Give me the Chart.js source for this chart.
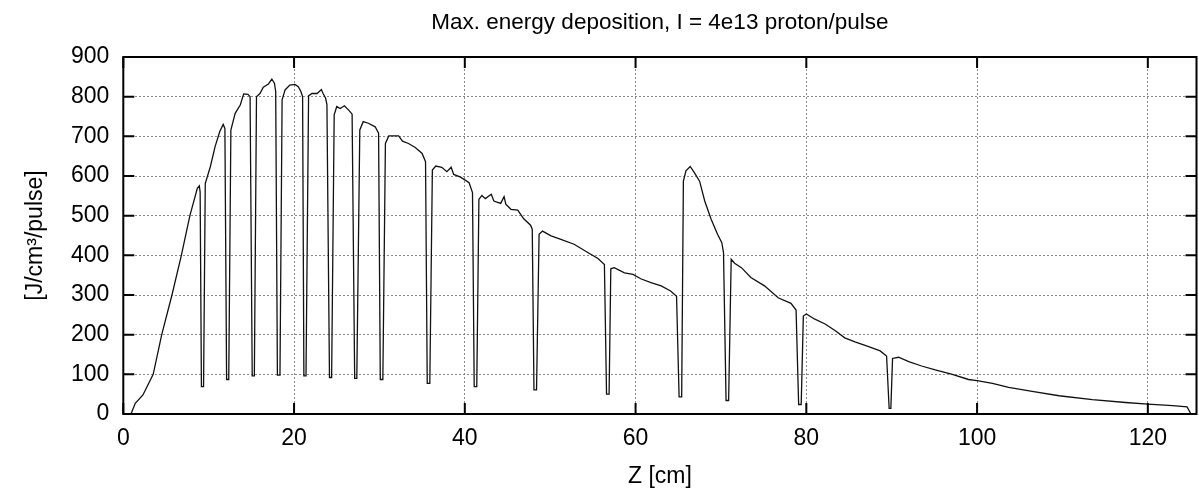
<!DOCTYPE html>
<html><head><meta charset="utf-8">
<script src="https://cdn.jsdelivr.net/npm/chart.js@4.4.0/dist/chart.umd.min.js"></script>
<style>html,body{margin:0;padding:0;background:#fff;}canvas{display:block;}</style>
</head><body>
<canvas id="c" width="1199" height="488"></canvas>
<script>
// Z position along the target [cm]
const zPositions = [
  0.9, 1.4, 2.3, 3.5, 4.5, 5.7, 6.8, 7.8, 8.67, 8.9,
  9.0, 9.15, 9.4, 9.6,
  10.2, 10.75, 11.3, 11.7, 11.9,
  12.1, 12.35, 12.6,
  13.1, 13.7, 14.1, 14.6, 14.85,
  15.1, 15.35, 15.6,
  16.0, 16.4, 17.0, 17.4, 17.7, 17.85,
  18.05, 18.35, 18.6,
  18.95, 19.5, 20.1, 20.5, 20.8, 21.0,
  21.15, 21.4, 21.7,
  22.1, 22.7, 23.2, 23.4, 23.7, 23.85,
  24.15, 24.4, 24.7,
  25.0, 25.4, 25.9, 26.4, 26.8,
  27.1, 27.35, 27.7,
  28.1, 28.7, 29.5, 29.9,
  30.1, 30.4, 30.7,
  31.1, 32.25, 32.7, 33.4, 34.2, 35.0, 35.4,
  35.6, 35.9, 36.2,
  36.6, 37.3, 37.9, 38.4, 38.7, 39.5, 40.5, 40.9,
  41.1, 41.4, 41.65,
  42.0, 42.4, 43.1, 43.4, 44.2, 44.6, 44.8, 45.4, 46.2, 46.9, 47.7, 47.9,
  48.1, 48.4, 48.7,
  49.1, 50.1, 51.25, 52.8, 54.4, 55.6, 56.35,
  56.6, 56.9, 57.1,
  57.5, 58.7, 59.7, 60.6, 61.8, 63.0, 64.1, 64.8,
  65.1, 65.4, 65.6,
  65.9, 66.4, 66.9, 67.5, 68.1, 68.85, 69.6, 70.1, 70.3,
  70.6, 70.9, 71.2,
  71.6, 72.4, 73.5, 75.1, 76.7, 78.2, 78.8,
  79.1, 79.4, 79.65,
  80.0, 81.0, 82.2, 83.4, 84.5, 85.7, 87.3, 88.65, 89.4,
  89.7, 89.9, 90.1,
  90.8, 92.0, 93.5, 95.1, 97.1, 99.0, 100.0, 101.8, 103.7, 106.45, 109.6, 113.5, 117.4, 120.0, 122.9, 124.6, 125.0
];
// Max. energy deposition [J/cm3/pulse]
const energyValues = [
  0, 27, 48, 100, 200, 300, 400, 500, 569, 575,
  560, 69, 69, 581,
  624, 674, 712, 730, 720,
  87, 87, 716,
  758, 779, 807, 806, 800,
  96, 96, 800,
  808, 824, 832, 844, 834, 813,
  98, 98, 792,
  817, 829, 831, 825, 813, 800,
  96, 96, 802,
  808, 808, 818, 808, 796, 780,
  92, 92, 754,
  775, 770, 777, 766, 756,
  90, 90, 716,
  737, 733, 724, 708,
  87, 87, 682,
  701, 701, 688, 682, 672, 657, 636,
  77, 77, 615,
  625, 622, 611, 622, 604, 597, 583, 558,
  69, 69, 541,
  551, 543, 554, 537, 531, 548, 529, 516, 514, 492, 476, 466,
  61, 61, 453,
  461, 449, 440, 428, 407, 392, 377,
  50, 50, 366,
  369, 356, 352, 341, 331, 323, 310, 297,
  43, 43, 587,
  613, 624, 608, 587, 537, 491, 453, 432, 407,
  34, 34, 390,
  380, 369, 344, 323, 293, 279, 262,
  24, 24, 247,
  252, 239, 227, 210, 192, 182, 170, 159, 146,
  14, 14, 140,
  143, 132, 121, 111, 100, 87, 84, 77, 67, 57, 46, 36, 29, 25, 21, 18, 2
];
const xTickValues = [0, 20, 40, 60, 80, 100, 120];
const yTickValues = [0, 100, 200, 300, 400, 500, 600, 700, 800, 900];
const titleText = 'Max. energy deposition, I = 4e13 proton/pulse';
const xTitle = 'Z [cm]';
const yTitle = '[J/cm\u00B3/pulse]';

const FONT = '"Liberation Sans", Arial, Helvetica, sans-serif';

const points = zPositions.map((z, i) => ({x: z, y: energyValues[i]}));

const framePlugin = {
  id: 'gnuFrame',
  afterDatasetsDraw(chart) {
    const {ctx, chartArea: a, scales} = chart;
    const x = scales.x, y = scales.y;
    const len = 11;
    ctx.save();
    ctx.strokeStyle = '#000';
    ctx.lineWidth = 2;
    ctx.beginPath();
    x.ticks.forEach(t => {
      const px = x.getPixelForValue(t.value);
      ctx.moveTo(px, a.bottom); ctx.lineTo(px, a.bottom - len);
      ctx.moveTo(px, a.top); ctx.lineTo(px, a.top + len);
    });
    y.ticks.forEach(t => {
      const py = y.getPixelForValue(t.value);
      ctx.moveTo(a.left, py); ctx.lineTo(a.left + len, py);
      ctx.moveTo(a.right, py); ctx.lineTo(a.right - len, py);
    });
    ctx.stroke();
    ctx.strokeRect(a.left, a.top, a.right - a.left, a.bottom - a.top);
    ctx.restore();
  }
};

new Chart(document.getElementById('c'), {
  type: 'scatter',
  data: {
    datasets: [{
      data: points,
      showLine: true,
      borderColor: '#111',
      borderWidth: 1.3,
      pointRadius: 0,
      tension: 0,
      fill: false
    }]
  },
  options: {
    responsive: false,
    animation: false,
    devicePixelRatio: 1,
    layout: {padding: {left: 0, right: 2.5, top: 0, bottom: 0}},
    plugins: {
      legend: {display: false},
      tooltip: {enabled: false},
      title: {
        display: true,
        fullSize: false,
        text: titleText,
        color: '#000',
        font: {family: FONT, size: 22.5, weight: 'normal', lineHeight: 1.2},
        padding: {top: 9, bottom: 21}
      }
    },
    scales: {
      x: {
        type: 'linear',
        min: 0,
        max: 125.7,
        afterBuildTicks: s => { s.ticks = xTickValues.map(v => ({value: v})); },
        afterFit: s => { s.height = 74; },
        ticks: {color: '#000', font: {family: FONT, size: 23}, padding: 11, maxRotation: 0, includeBounds: false},
        grid: {color: '#8a8a8a', lineWidth: 1, drawTicks: false},
        border: {display: false, dash: [2, 2]},
        title: {display: true, text: xTitle, color: '#000', font: {family: FONT, size: 23, lineHeight: 1}, padding: {top: 0, bottom: 0}}
      },
      y: {
        type: 'linear',
        min: 0,
        max: 900,
        afterBuildTicks: s => { s.ticks = yTickValues.map(v => ({value: v})); },
        afterFit: s => { s.width = 123.3; },
        ticks: {color: '#000', font: {family: FONT, size: 23}, padding: 14},
        grid: {color: '#8a8a8a', lineWidth: 1, drawTicks: false},
        border: {display: false, dash: [2, 2]},
        title: {display: true, text: yTitle, color: '#000', font: {family: FONT, size: 23, lineHeight: 1}, padding: {top: 24.5, bottom: 0}}
      }
    }
  },
  plugins: [framePlugin]
});
</script>
</body></html>
